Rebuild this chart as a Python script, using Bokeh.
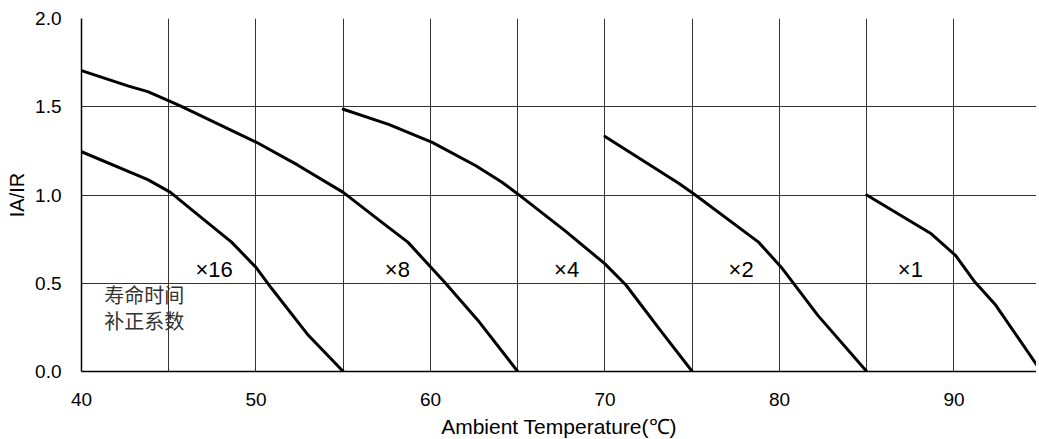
from bokeh.plotting import figure
from bokeh.models import FixedTicker, SingleIntervalTicker, Range1d, ColumnDataSource, CustomJSTickFormatter
from bokeh.core.properties import value
from bokeh.embed import file_html
from bokeh.resources import INLINE

# ---- data ----
temp_x16 = [40, 43.8, 45.1, 46.5, 48.6, 50.0, 50.9, 53.0, 55.0]
ratio_x16 = [1.245, 1.087, 1.015, 0.902, 0.733, 0.59, 0.47, 0.205, 0.0]

temp_x8 = [40, 42.7, 43.8, 45.6, 50.0, 52.4, 55.0, 57.2, 58.7, 60.8, 62.8, 65.0]
ratio_x8 = [1.705, 1.617, 1.586, 1.508, 1.30, 1.169, 1.015, 0.846, 0.733, 0.507, 0.28, 0.0]

temp_x4 = [55.0, 57.6, 60.1, 62.6, 64.1, 65.0, 67.7, 70.0, 71.2, 73.1, 75.0]
ratio_x4 = [1.486, 1.40, 1.298, 1.166, 1.072, 1.006, 0.798, 0.61, 0.49, 0.243, 0.0]

temp_x2 = [70.0, 74.2, 75.1, 78.8, 80.1, 82.2, 85.0]
ratio_x2 = [1.332, 1.068, 1.006, 0.733, 0.591, 0.318, 0.0]

temp_x1 = [85.0, 88.7, 90.1, 91.2, 92.4, 95.0]
ratio_x1 = [1.0, 0.78, 0.657, 0.507, 0.375, 0.0]

curve_labels = ["×16", "×8", "×4", "×2", "×1"]
label_x = [47.6, 58.1, 67.8, 77.8, 87.5]
label_y = [0.58, 0.58, 0.58, 0.58, 0.58]

note_lines = ["寿命时间", "补正系数"]
note_x = [41.3, 41.3]
note_y = [0.435, 0.288]

x_ticks = [40, 50, 60, 70, 80, 90]
y_ticks = [0.0, 0.5, 1.0, 1.5, 2.0]

# ---- figure ----
p = figure(width=1036, height=440, output_backend="svg", toolbar_location=None,
           x_range=Range1d(40, 94.73), y_range=Range1d(0, 2.0),
           min_border_left=81, min_border_right=0, min_border_top=18, min_border_bottom=68)
p.outline_line_color = None
p.background_fill_color = "white"
p.border_fill_color = "white"

FONT = "Liberation Sans"

p.xaxis.ticker = FixedTicker(ticks=x_ticks)
p.yaxis.ticker = FixedTicker(ticks=y_ticks)
p.yaxis.formatter = CustomJSTickFormatter(code="return tick.toFixed(1);")

for ax in (p.xaxis[0], p.yaxis[0]):
    ax.axis_line_color = "black"
    ax.axis_line_width = 1.5
    ax.major_tick_out = 0
    ax.major_tick_in = 0
    ax.minor_tick_out = 0
    ax.minor_tick_in = 0
    ax.major_label_text_font = FONT
    ax.major_label_text_font_size = "19px"
    ax.major_label_text_color = "black"
    ax.axis_label_text_font = FONT
    ax.axis_label_text_font_style = "normal"
    ax.axis_label_text_color = "black"

p.xaxis.axis_label = "Ambient Temperature(℃)"
p.yaxis.axis_label = "IA/IR"
p.xaxis.axis_label_text_font_size = "21px"
p.yaxis.axis_label_text_font_size = "20px"
p.xaxis.major_label_standoff = 21
p.xaxis.axis_label_standoff = 6
p.yaxis.major_label_standoff = 20
p.yaxis.axis_label_standoff = 4

p.xgrid.ticker = SingleIntervalTicker(interval=5)
p.ygrid.ticker = FixedTicker(ticks=y_ticks)
for g in (p.xgrid[0], p.ygrid[0]):
    g.grid_line_color = "#333333"
    g.grid_line_width = 1

series = [(temp_x16, ratio_x16), (temp_x8, ratio_x8), (temp_x4, ratio_x4),
          (temp_x2, ratio_x2), (temp_x1, ratio_x1)]
for xs, ys in series:
    p.line(xs, ys, line_color="black", line_width=3, line_join="round", line_cap="round")

src = ColumnDataSource(dict(x=label_x, y=label_y, t=curve_labels))
p.text(x="x", y="y", text="t", source=src, text_font=value(FONT),
       text_font_size="22px", text_align="center", text_baseline="middle", text_color="black")

nsrc = ColumnDataSource(dict(x=note_x, y=note_y, t=note_lines))
p.text(x="x", y="y", text="t", source=nsrc, text_font=value("Noto Sans CJK SC"),
       text_font_size="20px", text_align="left", text_baseline="middle", text_color="#333333")

open("out.html", "w").write(file_html(p, INLINE))
